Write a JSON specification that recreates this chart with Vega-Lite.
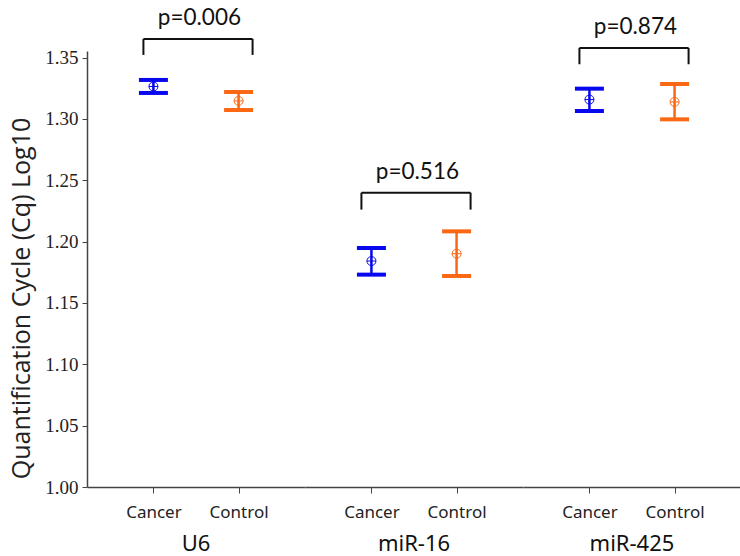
{
  "$schema": "https://vega.github.io/schema/vega-lite/v6.json",
  "background": "white",
  "padding": {"left": 9, "top": 6, "right": 0, "bottom": 5},
  "data": {
    "values": [
      {"group": "U6", "condition": "Cancer", "mean": 1.3265, "lo": 1.3212, "hi": 1.3318, "btop": 1.3652, "bbot": 1.3522, "p": "p=0.006"},
      {"group": "U6", "condition": "Control", "mean": 1.3147, "lo": 1.3073, "hi": 1.322, "btop": 1.3652, "bbot": 1.3522, "p": "p=0.006"},
      {"group": "miR-16", "condition": "Cancer", "mean": 1.1842, "lo": 1.1731, "hi": 1.1948, "btop": 1.2399, "bbot": 1.2261, "p": "p=0.516"},
      {"group": "miR-16", "condition": "Control", "mean": 1.1902, "lo": 1.172, "hi": 1.2084, "btop": 1.2399, "bbot": 1.2261, "p": "p=0.516"},
      {"group": "miR-425", "condition": "Cancer", "mean": 1.3158, "lo": 1.3065, "hi": 1.3247, "btop": 1.3579, "bbot": 1.3446, "p": "p=0.874"},
      {"group": "miR-425", "condition": "Control", "mean": 1.3139, "lo": 1.2997, "hi": 1.3285, "btop": 1.3579, "bbot": 1.3446, "p": "p=0.874"}
    ]
  },
  "facet": {
    "column": {
      "field": "group",
      "type": "nominal",
      "sort": ["U6", "miR-16", "miR-425"],
      "header": {
        "title": null,
        "labelOrient": "bottom",
        "labelFont": "Noto Sans",
        "labelFontSize": 22,
        "labelColor": "#111",
        "labelPadding": 14
      }
    }
  },
  "spacing": 0,
  "spec": {
    "width": 218,
    "height": 436,
    "encoding": {
      "x": {
        "field": "condition",
        "type": "nominal",
        "sort": ["Cancer", "Control"],
        "scale": {"type": "point", "padding": 0.78},
        "axis": {
          "title": null,
          "labelAngle": 0,
          "labelFont": "Noto Sans",
          "labelFontSize": 17,
          "labelColor": "#222",
          "labelPadding": 11,
          "tickSize": 6,
          "tickColor": "#444",
          "domainColor": "#444",
          "domainWidth": 1.5,
          "grid": false
        }
      }
    },
    "layer": [
      {
        "mark": {"type": "rule", "strokeWidth": 2.5, "opacity": 1},
        "encoding": {
          "y": {
            "field": "lo",
            "type": "quantitative",
            "scale": {"domain": [1.0, 1.3554], "nice": false, "zero": false},
            "axis": {
              "title": "Quantification Cycle (Cq) Log10",
              "titleFont": "Open Sans",
              "titleFontSize": 25,
              "titleFontWeight": "normal",
              "titleColor": "#222",
              "titlePadding": 10,
              "titleY": 247,
              "values": [1.0, 1.05, 1.1, 1.15, 1.2, 1.25, 1.3, 1.35],
              "format": ".2f",
              "labelFont": "Liberation Serif",
              "labelFontSize": 19,
              "labelColor": "#222",
              "labelPadding": 4,
              "tickSize": 5,
              "tickColor": "#444",
              "domainColor": "#444",
              "domainWidth": 1.5,
              "grid": false
            }
          },
          "y2": {"field": "hi"},
          "color": {
            "field": "condition",
            "type": "nominal",
            "scale": {"domain": ["Cancer", "Control"], "range": ["#0808ee", "#fa6814"]},
            "legend": null
          }
        }
      },
      {
        "mark": {"type": "tick", "thickness": 4, "size": 29, "opacity": 1},
        "encoding": {
          "y": {"field": "lo", "type": "quantitative"},
          "color": {"field": "condition", "type": "nominal", "legend": null}
        }
      },
      {
        "mark": {"type": "tick", "thickness": 4, "size": 29, "opacity": 1},
        "encoding": {
          "y": {"field": "hi", "type": "quantitative"},
          "color": {"field": "condition", "type": "nominal", "legend": null}
        }
      },
      {
        "mark": {
          "type": "point",
          "shape": "M-1,0A1,1,0,1,1,1,0A1,1,0,1,1,-1,0ZM-1,0L1,0M0,-1L0,1",
          "filled": false,
          "size": 81,
          "strokeWidth": 1,
          "opacity": 1
        },
        "encoding": {
          "y": {"field": "mean", "type": "quantitative"},
          "color": {"field": "condition", "type": "nominal", "legend": null}
        }
      },
      {
        "transform": [{"filter": "datum.condition === 'Cancer'"}],
        "mark": {"type": "rule", "color": "#111", "strokeWidth": 2, "xOffset": -10, "x2Offset": 14},
        "encoding": {
          "x2": {"datum": "Control"},
          "y": {"field": "btop", "type": "quantitative"}
        }
      },
      {
        "transform": [{"filter": "datum.condition === 'Cancer'"}],
        "mark": {"type": "rule", "color": "#111", "strokeWidth": 2, "xOffset": -10},
        "encoding": {
          "y": {"field": "btop", "type": "quantitative"},
          "y2": {"field": "bbot"}
        }
      },
      {
        "transform": [{"filter": "datum.condition === 'Control'"}],
        "mark": {"type": "rule", "color": "#111", "strokeWidth": 2, "xOffset": 14},
        "encoding": {
          "y": {"field": "btop", "type": "quantitative"},
          "y2": {"field": "bbot"}
        }
      },
      {
        "transform": [{"filter": "datum.condition === 'Cancer'"}],
        "mark": {"type": "text", "font": "Lato", "fontSize": 22.5, "color": "#111", "align": "center", "baseline": "alphabetic", "dx": 46, "dy": -14},
        "encoding": {
          "y": {"field": "btop", "type": "quantitative"},
          "text": {"field": "p"}
        }
      }
    ]
  },
  "config": {
    "view": {"stroke": null},
    "axis": {"grid": false}
  }
}
